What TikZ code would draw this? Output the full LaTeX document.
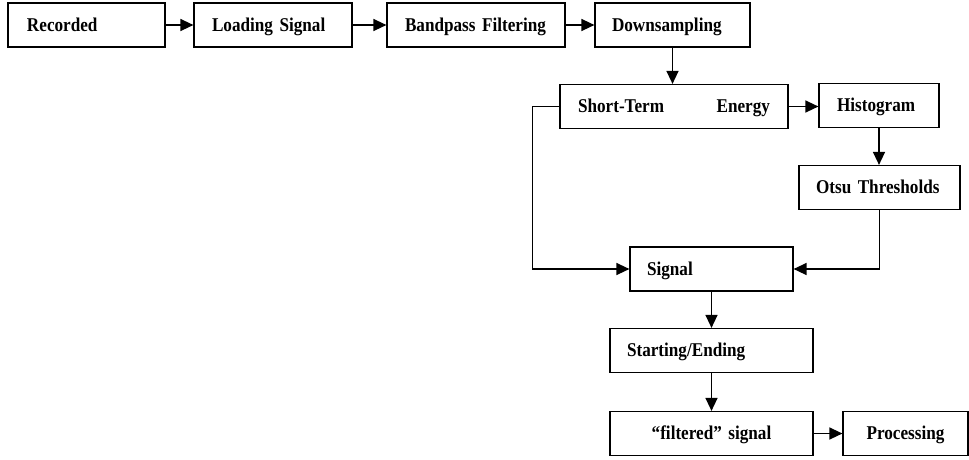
\documentclass[tikz,border=0pt]{standalone}
\usepackage{fontspec}
\setmainfont{Liberation Serif}
\newfontfamily\boxfont[FakeStretch=0.88]{Liberation Serif Bold}
\newcommand\myboxfont{\boxfont\fontsize{19.5}{22}\selectfont\spaceskip=4.3pt plus 1pt\relax}
\usetikzlibrary{arrows.meta}
\begin{document}
\begin{tikzpicture}[x=1pt,y=-1pt,
  box/.style={draw, line width=1.2pt, minimum height=44pt, inner ysep=0pt,
    font=\myboxfont, text height=12.9pt, text depth=0pt, align=left},
  conn/.style={line width=1.4pt, -{Triangle[length=13pt,width=12pt]}}]
\useasboundingbox (0,0) rectangle (969,459);
% boxes: text width = w - 2*pad, inner xsep = pad
\node[box, inner xsep=19pt, text width=119pt] (rec) at (86.5,25) {Recorded};
\node[box, inner xsep=18pt, text width=122pt] (load) at (273,25) {Loading Signal};
\node[box, inner xsep=18pt, text width=142pt] (band) at (476,25) {Bandpass Filtering};
\node[box, inner xsep=17pt, text width=121pt] (down) at (672.5,25) {Downsampling};
\node[box, inner xsep=18pt, text width=192pt] (ste) at (674,106.5) {Short-Term\hfill Energy};
\node[box, inner xsep=18pt, text width=84pt] (hist) at (879,105.5) {Histogram};
\node[box, inner xsep=17pt, text width=127pt] (otsu) at (879.5,187.5) {Otsu Thresholds};
\node[box, inner xsep=17pt, text width=129pt] (sig) at (711.5,269) {Signal};
\node[box, inner xsep=17pt, text width=169pt] (start) at (711.5,350.5) {Starting/Ending};
\node[box, inner xsep=17pt, text width=169pt, align=center] (filt) at (711.5,433.5) {“filtered” signal};
\node[box, inner xsep=10pt, text width=105pt, align=center] (proc) at (905.5,433.5) {Processing};
% connectors
\draw[conn] (rec.east) -- (load.west);
\draw[conn] (load.east) -- (band.west);
\draw[conn] (band.east) -- (down.west);
\draw[conn] (down.south) -- (down.south |- ste.north);
\draw[conn] (ste.east) -- (ste.east -| hist.west);
\draw[conn] (hist.south) -- (hist.south |- otsu.north);
\draw[conn] (otsu.south) |- (sig.east);
\draw[conn] (ste.west) -- ++(-27,0) |- (sig.west);
\draw[conn] (sig.south) -- (start.north);
\draw[conn] (start.south) -- (filt.north);
\draw[conn] (filt.east) -- (proc.west);
\end{tikzpicture}
\end{document}
